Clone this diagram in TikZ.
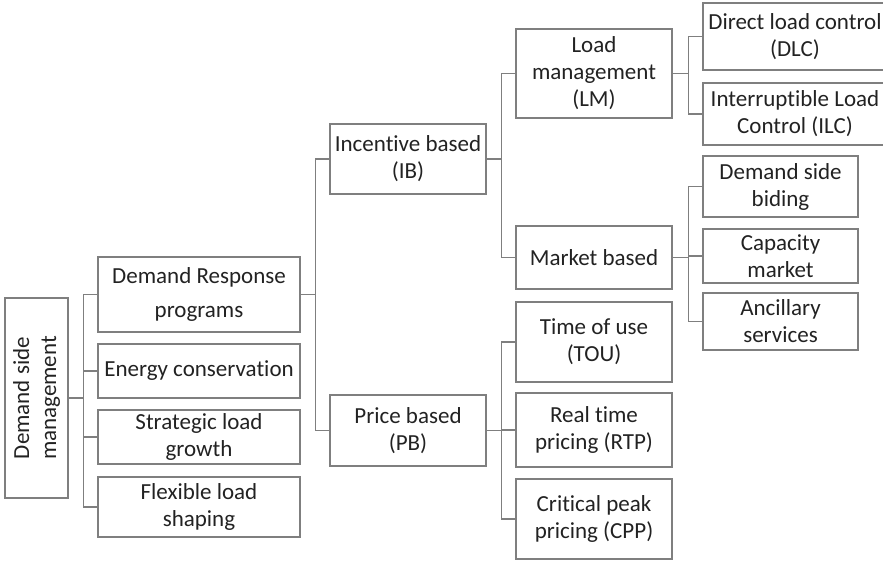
\documentclass[tikz,border=0pt]{standalone}
\usepackage{fontspec}
\setmainfont{Carlito}[Ligatures=NoCommon]
\definecolor{boxgray}{HTML}{7F7F7F}
\definecolor{txtgray}{HTML}{222222}

\begin{document}
\begin{tikzpicture}[x=1pt, y=-1pt, line width=1.3pt,
  every node/.style={draw=boxgray, align=center, inner sep=0pt, text=txtgray, font=\fontsize{23}{27}\selectfont},
  link/.style={draw=boxgray, line width=1.3pt}]
\clip (0,0) rectangle (883,560);
% root and first level
\node[rotate=90, minimum width=200pt, minimum height=63pt] (dsm) at (36.5,398) {Demand side\\management};
\node[minimum width=202pt, minimum height=75pt] (dr) at (199,294.5) {Demand Response\\[7pt]programs};
\node[minimum width=202pt, minimum height=54pt] (ec) at (199,371) {Energy conservation};
\node[minimum width=202pt, minimum height=54pt] (slg) at (199,437) {Strategic load\\growth};
\node[minimum width=202pt, minimum height=60pt] (fls) at (199,507) {Flexible load\\shaping};
% second level
\node[minimum width=156pt, minimum height=70pt] (ib) at (408,159) {Incentive based\\(IB)};
\node[minimum width=156pt, minimum height=71pt] (pb) at (408,430.5) {Price based\\(PB)};
% third level
\node[minimum width=156pt, minimum height=89pt] (lm) at (594,73.5) {Load\\management\\(LM)};
\node[minimum width=156pt, minimum height=63pt] (mb) at (594,257.5) {Market based};
\node[minimum width=156pt, minimum height=80pt] (tou) at (594,342) {Time of use\\(TOU)};
\node[minimum width=156pt, minimum height=74pt] (rtp) at (594,430) {Real time\\pricing (RTP)};
\node[minimum width=156pt, minimum height=80pt] (cpp) at (594,519) {Critical peak\\pricing (CPP)};
% fourth level
\node[minimum width=184pt, minimum height=67pt] (dlc) at (795,36.5) {Direct load control\\(DLC)};
\node[minimum width=184pt, minimum height=62pt] (ilc) at (795,114) {Interruptible Load\\Control (ILC)};
\node[minimum width=155pt, minimum height=61pt] (dsb) at (780.5,186.5) {Demand side\\biding};
\node[minimum width=155pt, minimum height=54pt] (cm) at (780.5,256) {Capacity\\market};
\node[minimum width=155pt, minimum height=57pt] (as) at (780.5,321.5) {Ancillary\\services};
% bus points
\coordinate (bus0) at ([xshift=15pt]dsm.south);
\coordinate (bus1) at ([xshift=15pt]dr.east);
\coordinate (bus2) at ([xshift=15pt]ib.east);
\coordinate (bus3) at ([xshift=15pt]pb.east);
\coordinate (bus4) at ([xshift=16pt]lm.east);
\coordinate (bus5) at ([xshift=16pt]mb.east);
% connectors
\draw[link] (dsm.south) -- (bus0);
\foreach \n in {dr,ec,slg,fls} \draw[link] (bus0) |- (\n.west);
\draw[link] (dr.east) -- (bus1);
\foreach \n in {ib,pb} \draw[link] (bus1) |- (\n.west);
\draw[link] (ib.east) -- (bus2);
\foreach \n in {lm,mb} \draw[link] (bus2) |- (\n.west);
\draw[link] (pb.east) -- (bus3);
\foreach \n in {tou,rtp,cpp} \draw[link] (bus3) |- (\n.west);
\draw[link] (lm.east) -- (bus4);
\foreach \n in {dlc,ilc} \draw[link] (bus4) |- (\n.west);
\draw[link] (mb.east) -- (bus5);
\foreach \n in {dsb,cm,as} \draw[link] (bus5) |- (\n.west);
\end{tikzpicture}
\end{document}
